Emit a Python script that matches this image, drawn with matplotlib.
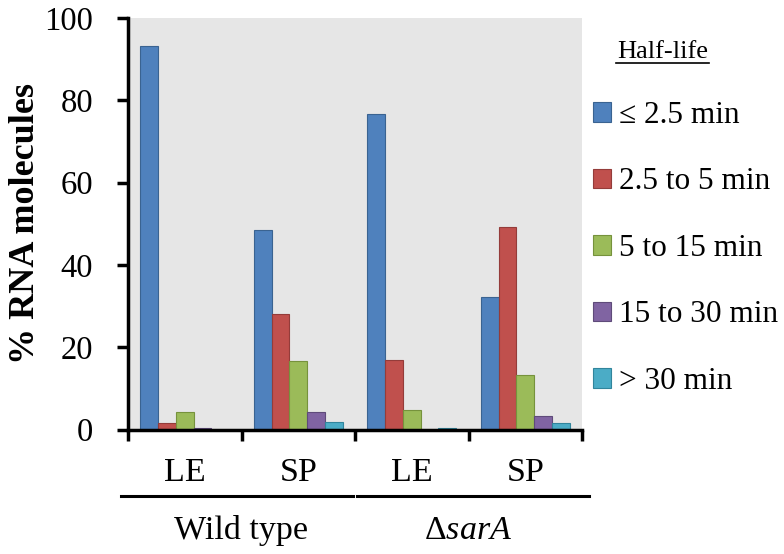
import matplotlib
matplotlib.use('Agg')
import matplotlib.pyplot as plt
import matplotlib.transforms as mtransforms
from matplotlib.lines import Line2D
import numpy as np

plt.rcParams['font.family'] = ['Liberation Serif', 'DejaVu Serif']
plt.rcParams['mathtext.fontset'] = 'custom'
plt.rcParams['mathtext.rm'] = 'Liberation Serif'
plt.rcParams['mathtext.it'] = 'Liberation Serif:italic'

# data
conditions = ['LE', 'SP', 'LE', 'SP']
strains = ['Wild type', r'Δ$\mathit{sarA}$']
half_life = ['≤ 2.5 min', '2.5 to 5 min', '5 to 15 min', '15 to 30 min', '> 30 min']
le_2_5 = [93.2, 48.5, 76.7, 32.1]
v_2_5_5 = [1.5, 28.1, 16.9, 49.1]
v_5_15 = [4.3, 16.7, 4.7, 13.2]
v_15_30 = [0.3, 4.3, 0.0, 3.2]
gt_30 = [0.0, 1.9, 0.3, 1.7]

series = [le_2_5, v_2_5_5, v_5_15, v_15_30, gt_30]
colors = ['#4F81BD', '#C0504D', '#9BBB59', '#8064A2', '#4BACC6']
edges = ['#3A6391', '#943C3A', '#76923C', '#5F4B7A', '#31859C']

fig = plt.figure(figsize=(7.84, 5.54), dpi=100)
ax = fig.add_axes([128 / 784, 1 - 429.5 / 554, (582 - 128) / 784, 411.5 / 554])
ax.set_facecolor('#E6E6E6')

x = np.arange(len(conditions))
w = 0.156
bars = []
for i, (vals, c, e) in enumerate(zip(series, colors, edges)):
    b = ax.bar(x + (i - 2) * w, vals, w, color=c, edgecolor=e, linewidth=0.8,
               label=half_life[i])
    bars.append(b)

ax.set_xlim(-0.5, 3.5)
ax.set_ylim(0, 100)
ax.set_yticks([0, 20, 40, 60, 80, 100])
ax.tick_params(axis='y', labelsize=23.5, length=8, width=2.5, pad=17, direction='out')
ax.set_xticks([-0.5, 0.5, 1.5, 2.5, 3.5])
ax.set_xticklabels([])
ax.tick_params(axis='x', length=8, width=2.5, direction='out')
for s in ['top', 'right']:
    ax.spines[s].set_visible(False)
for s in ['left', 'bottom']:
    ax.spines[s].set_linewidth(2.5)

ax.set_ylabel('% RNA molecules', fontsize=26, fontweight='bold', labelpad=2)

# category labels below axis
trans = mtransforms.blended_transform_factory(ax.transData, ax.transAxes)
for xi, lab in zip(x, conditions):
    ax.text(xi, -0.106, lab, transform=trans, ha='center', va='center', fontsize=24.5)
ax.add_line(Line2D([-0.565, 1.48], [-0.161, -0.161], transform=trans, color='black',
                   lw=2.2, clip_on=False))
ax.add_line(Line2D([1.52, 3.565], [-0.161, -0.161], transform=trans, color='black',
                   lw=2.2, clip_on=False))
ax.text(0.5, -0.245, strains[0], transform=trans, ha='center', va='center', fontsize=24.5)
ax.text(2.5, -0.245, strains[1], transform=trans, ha='center', va='center', fontsize=24.5)

# legend
fig.text(663 / 784, 1 - 52 / 554, 'Half-life', ha='center', va='center', fontsize=19)
fig.add_artist(Line2D([616 / 784, 709 / 784], [1 - 63 / 554, 1 - 63 / 554],
                      color='black', lw=1.2))
ax.legend(handles=bars, labels=half_life, loc='center left',
          bbox_to_anchor=(593 / 784, 1 - 248.5 / 554), bbox_transform=fig.transFigure,
          frameon=False, fontsize=22.5, labelspacing=1.2, handlelength=0.58,
          handleheight=0.58, handletextpad=0.25, borderpad=0, borderaxespad=0)

fig.savefig('out.png', dpi=100)
